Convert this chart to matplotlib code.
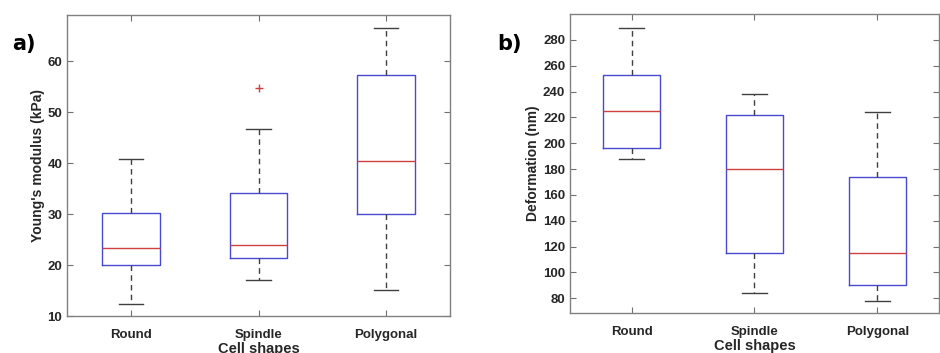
import matplotlib.pyplot as plt

plt.rcParams['font.family'] = ['Liberation Sans', 'DejaVu Sans']
plt.rcParams['font.weight'] = 'bold'

shapes = ["Round", "Spindle", "Polygonal"]

# panel a: Young's modulus (kPa)
ym_low = [12.4, 17.1, 15.1]
ym_q1 = [20.0, 21.4, 30.1]
ym_med = [23.4, 24.0, 40.4]
ym_q3 = [30.3, 34.1, 57.3]
ym_high = [40.7, 46.7, 66.4]
ym_fliers = [[], [54.7], []]

# panel b: deformation (nm)
df_low = [188, 84, 78]
df_q1 = [196, 115, 90.5]
df_med = [225, 180, 115]
df_q3 = [253, 222, 174]
df_high = [289, 238, 224]
df_fliers = [[], [], []]


def make_stats(low, q1, med, q3, high, fliers):
    stats = []
    for i in range(len(shapes)):
        stats.append({"whislo": low[i], "q1": q1[i], "med": med[i], "q3": q3[i],
                      "whishi": high[i], "fliers": fliers[i], "label": shapes[i]})
    return stats


def draw_panel(ax, stats, width, ylim, yticks, ylabel, tag):
    ax.bxp(stats, positions=[1, 2, 3], widths=width, showfliers=True,
           capwidths=width * 0.42,
           boxprops=dict(color="#4a4ad0", linewidth=1.0),
           medianprops=dict(color="#d04040", linewidth=1.0),
           whiskerprops=dict(color="#404040", linewidth=1.0, linestyle=(0, (4, 3))),
           capprops=dict(color="#404040", linewidth=1.0),
           flierprops=dict(marker="+", markeredgecolor="#d04040", markersize=6))
    ax.set_xlim(0.5, 3.5)
    ax.set_ylim(*ylim)
    ax.set_yticks(yticks)
    ax.set_xticks([1, 2, 3])
    ax.set_xticklabels(shapes)
    ax.tick_params(direction="in", top=True, right=True, length=4,
                   color="#707070", labelsize=9.5, labelcolor="#262626")
    ax.tick_params(axis="x", pad=9)
    for s in ax.spines.values():
        s.set_color("#808080")
        s.set_linewidth(1.0)
    ax.set_ylabel(ylabel, fontsize=10, fontweight="bold", color="#262626",
                  labelpad=2)
    ax.set_xlabel("Cell shapes", fontsize=10.5, fontweight="bold", color="#262626",
                  labelpad=1)
    ax.text(tag[0], tag[1], tag[2], transform=ax.figure.transFigure,
            fontsize=15, fontweight="bold", family=["DejaVu Sans"])


fig = plt.figure(figsize=(9.4, 3.53), dpi=100)
ax1 = fig.add_axes([0.0713, 0.1048, 0.4074, 0.8536])
ax2 = fig.add_axes([0.6064, 0.1133, 0.3925, 0.847])

draw_panel(ax1, make_stats(ym_low, ym_q1, ym_med, ym_q3, ym_high, ym_fliers),
           0.45, (10, 69.1), [10, 20, 30, 40, 50, 60], "Young's modulus (kPa)",
           (0.013, 0.858, "a)"))
draw_panel(ax2, make_stats(df_low, df_q1, df_med, df_q3, df_high, df_fliers),
           0.47, (68.6, 300), list(range(80, 281, 20)), "Deformation (nm)",
           (0.529, 0.858, "b)"))

fig.savefig("out.png", dpi=100)
